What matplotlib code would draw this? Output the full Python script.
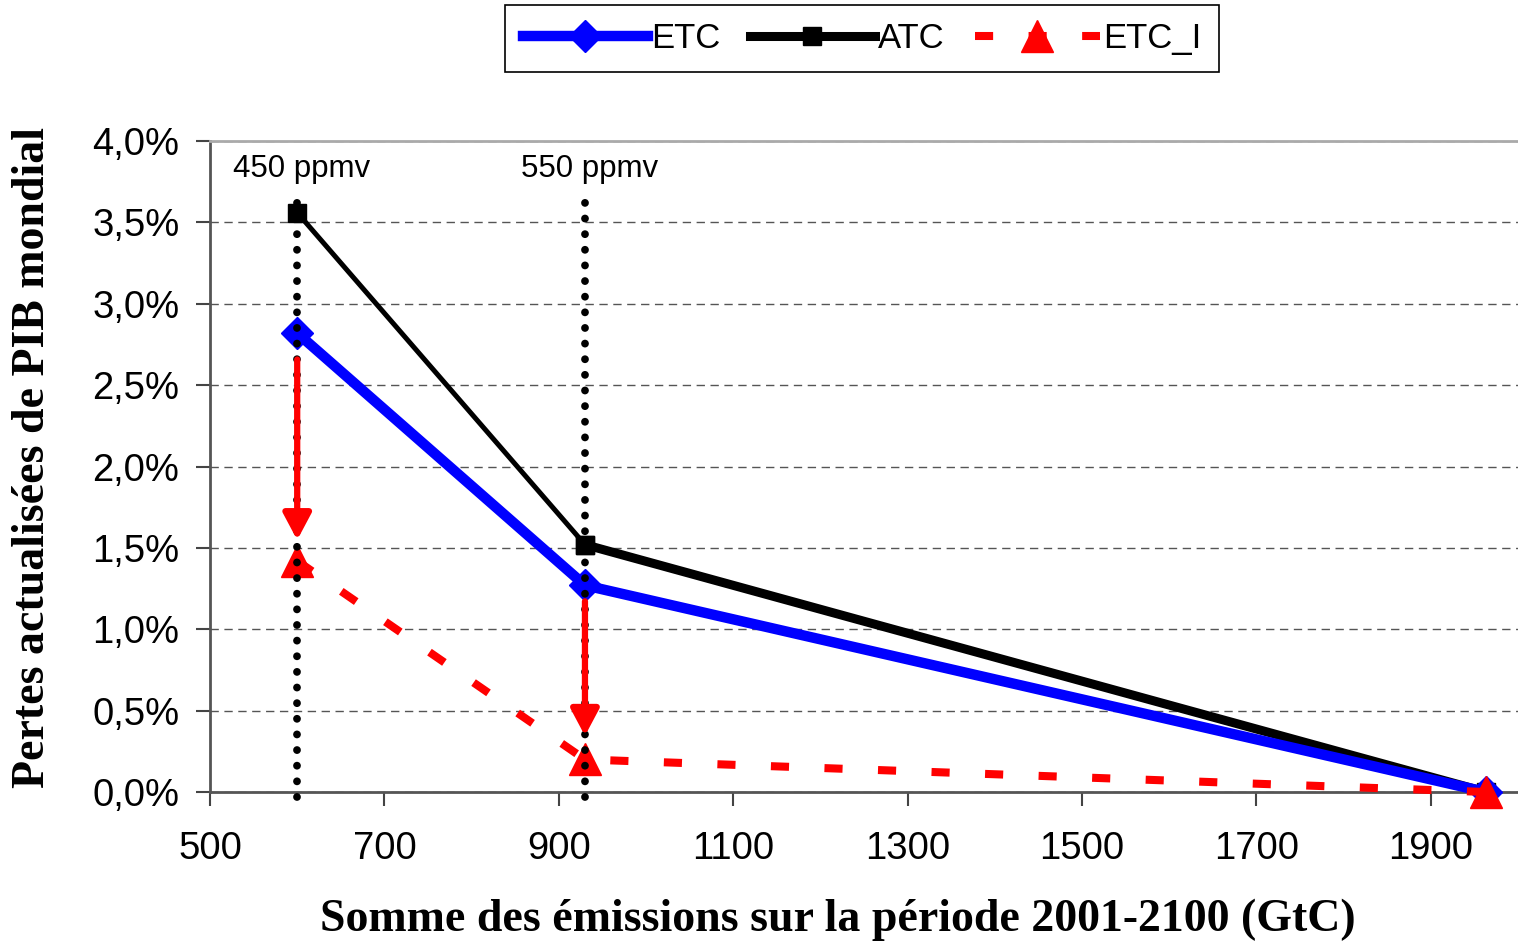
import matplotlib
matplotlib.use("Agg")
import matplotlib.pyplot as plt
from matplotlib.ticker import FuncFormatter, MultipleLocator

# cumulative emissions 2001-2100 (GtC) and discounted GDP losses (%)
emissions = [600, 930, 1963]
etc = [2.82, 1.27, 0.0]
atc = [3.56, 1.52, 0.0]
etc_i = [1.42, 0.20, 0.0]

targets = [600, 930]
target_labels = ["450 ppmv", "550 ppmv"]
x_ticks = [500, 700, 900, 1100, 1300, 1500, 1700, 1900]

sans = "Liberation Sans"
serif = "Liberation Serif"

fig = plt.figure(figsize=(15.18, 9.43), dpi=100)
ax = fig.add_axes([210 / 1518, 151 / 943, 1 - 210 / 1518, 651 / 943])

ax.set_xlim(500, 2000)
ax.set_ylim(0, 4.0)

# horizontal dashed grid
ax.yaxis.set_major_locator(MultipleLocator(0.5))
ax.set_xticks(x_ticks)
ax.grid(axis="y", color="#555555", linestyle=(0, (6, 4)), linewidth=1.0, zorder=1)
ax.set_axisbelow(True)

# series
ax.plot(emissions, etc, color="#0000ff", lw=7.5, marker="D", ms=16,
        solid_joinstyle="miter", zorder=4, clip_on=False, label="ETC")
ax.plot(emissions[:2], atc[:2], color="black", lw=3.6, marker="s", ms=12.5, zorder=3)
ax.plot(emissions[1:], atc[1:], color="black", lw=6.5, marker="s", ms=12.5,
        zorder=3, clip_on=False)
ax.plot([], [], color="black", lw=6.5, marker="s", ms=12.5, label="ATC")
ax.plot(emissions, etc_i, color="#ff0000", lw=5.8, linestyle=(0, (2.25, 4.4)),
        dash_capstyle="butt", marker="^", ms=23, zorder=5, clip_on=False,
        label="ETC_I")

# red arrows from ETC down to ETC_I
gaps_top = [19, 11.5]
gaps_bottom = [15, 17]
for i in range(2):
    ax.annotate("", xy=(emissions[i], etc_i[i]), xytext=(emissions[i], etc[i]),
                arrowprops=dict(arrowstyle="-|>,head_length=16,head_width=8.5",
                                mutation_scale=1, color="#ff0000", lw=4.5,
                                shrinkA=gaps_top[i], shrinkB=gaps_bottom[i]),
                zorder=8)

# stabilisation targets
for xv, lab in zip(targets, target_labels):
    ax.plot([xv, xv], [-0.03, 3.66], color="black", lw=5.6,
            linestyle=(0, (0.01, 2.0)), dash_capstyle="round",
            clip_on=False, zorder=7)
    ax.text(xv + 5, 3.83, lab, ha="center", va="center", fontsize=22.5,
            family=sans, zorder=8)

ax.yaxis.set_major_formatter(FuncFormatter(lambda v, p: f"{v:.1f}%".replace(".", ",")))
ax.tick_params(axis="both", direction="out", length=10, width=1.5, color="#444444",
               labelsize=27.5)
ax.tick_params(axis="y", pad=12)
ax.tick_params(axis="x", pad=18)
for t in ax.get_xticklabels() + ax.get_yticklabels():
    t.set_family(sans)

for side in ["left", "bottom"]:
    ax.spines[side].set_color("#555555")
    ax.spines[side].set_linewidth(2)
ax.spines["right"].set_visible(False)
ax.spines["top"].set_color("#aaaaaa")
ax.spines["top"].set_linewidth(2)

ax.set_xlabel("Somme des émissions sur la période 2001-2100 (GtC)",
              fontsize=33, fontweight="bold", family=serif, va="center")
ax.set_ylabel("Pertes actualisées de PIB mondial",
              fontsize=33, fontweight="bold", family=serif, va="center")
ax.xaxis.set_label_coords((838 - 210) / 1308, -(920 - 792) / 651)
ax.yaxis.set_label_coords(-(210 - 33) / 1308, (792 - 457) / 651)

leg = fig.legend(loc="center", bbox_to_anchor=(862 / 1518, 1 - 38.5 / 943), ncol=3,
                 frameon=True, fancybox=False, edgecolor="black", framealpha=1,
                 prop={"family": sans, "size": 25}, handlelength=3.6,
                 handletextpad=0.1, columnspacing=0.85, borderpad=0.5)
leg.get_frame().set_linewidth(1.2)

fig.savefig("out.png", dpi=100)
